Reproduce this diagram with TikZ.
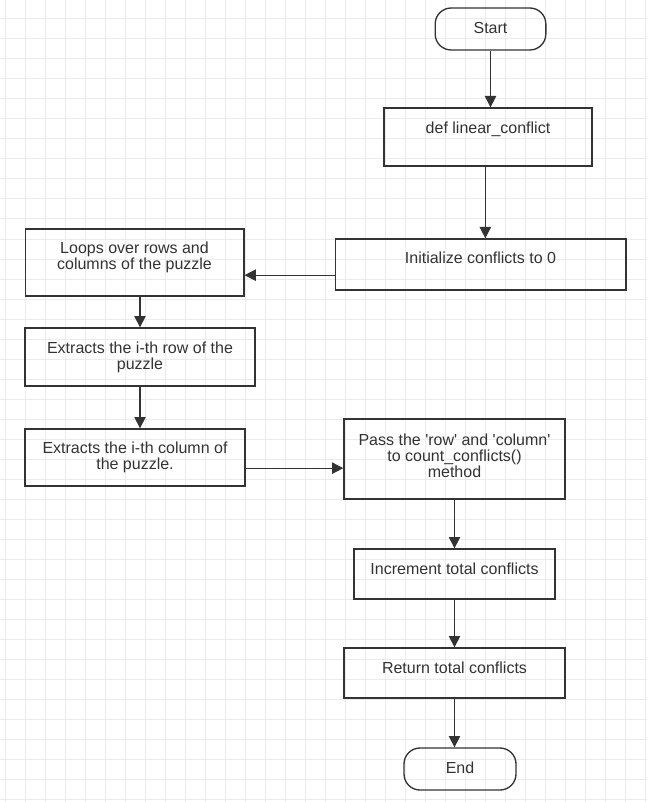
\documentclass[tikz,border=0pt]{standalone}
\usepackage{fontspec}
\setmainfont{Liberation Sans}
\usepackage{tikz}
\usetikzlibrary{shapes,arrows.meta,positioning,calc}
\definecolor{gridgray}{HTML}{EBEBEB}
\definecolor{ink}{HTML}{333333}
\tikzstyle{process} = [rectangle, draw=ink, line width=1pt, text=ink, align=center, font=\fontsize{12}{12}\selectfont]
\tikzstyle{terminal} = [process, rounded corners=12pt]
\tikzstyle{arrow} = [line width=1pt, draw=ink, -{Triangle[length=8.5pt,width=8.5pt]}]
\tikzstyle{gridline} = [gridgray, line width=0.75pt]

\begin{document}
\begin{tikzpicture}[x=0.75pt, y=-0.75pt]
    \useasboundingbox (0,0) rectangle (647,802);
    \fill[white] (0,0) rectangle (647,802);
    % background grid
    \foreach \gx in {5,25,...,645} \draw[gridline] (\gx,0) -- (\gx,802);
    \foreach \gy in {19,39,...,799} \draw[gridline] (0,\gy) -- (647,\gy);

    % right column
    \node[terminal, minimum width=83pt, minimum height=31.5pt, text height=8.6pt, text depth=2.2pt] (start) at (490.5,29) {Start};
    \node[process, minimum width=156pt, minimum height=43.5pt, text height=8.6pt, text depth=14.2pt] (def) at (488,137) {def linear\_conflict};
    \node[process, minimum width=218pt, minimum height=38.25pt, text height=8.6pt, text depth=9.4pt] (init) at (480.5,264.5) {Initialize conflicts to 0};

    % left column
    \node[process, minimum width=164pt, minimum height=50pt, text depth=10.5pt] (loops) at (134.5,262.5) {Loops over rows and\\columns of the puzzle};
    \node[process, minimum width=172.5pt, minimum height=43.5pt] (row) at (140,357) {Extracts the i-th row of the\\puzzle};
    \node[process, minimum width=165pt, minimum height=42.75pt] (col) at (135,457.5) {Extracts the i-th column of\\the puzzle.};

    % lower right column
    \node[process, minimum width=165.75pt, minimum height=60pt, text depth=5.2pt] (pass) at (454.5,459) {Pass the \textquotesingle row\textquotesingle{} and \textquotesingle column\textquotesingle\\to count\_conflicts()\\method};
    \node[process, minimum width=150.75pt, minimum height=37.5pt, text height=8.6pt, text depth=8.6pt] (incr) at (454.5,574) {Increment total conflicts};
    \node[process, minimum width=165.75pt, minimum height=37.5pt, text height=8.6pt, text depth=8.6pt] (ret) at (454.5,673) {Return total conflicts};
    \node[terminal, minimum width=84pt, minimum height=31.5pt, text height=8.6pt, text depth=2.6pt] (end) at (460,769) {End};

    % connectors
    \coordinate (toloops) at ([yshift=-8pt]init.west);
    \coordinate (topass) at ([yshift=-8pt]col.east);
    \draw[arrow] (start) -- (start |- def.north);
    \draw[arrow] ([xshift=-2pt]def.south) -- ([xshift=-2pt]def.south |- init.north);
    \draw[arrow] (toloops) -- (toloops -| loops.east);
    \draw[arrow] (row |- loops.south) -- (row.north);
    \draw[arrow] (row.south) -- (row.south |- col.north);
    \draw[arrow] (topass) -- (topass -| pass.west);
    \draw[arrow] (pass.south) -- (incr.north);
    \draw[arrow] (incr.south) -- (ret.north);
    \draw[arrow] (ret.south) -- (ret.south |- end.north);
\end{tikzpicture}
\end{document}
